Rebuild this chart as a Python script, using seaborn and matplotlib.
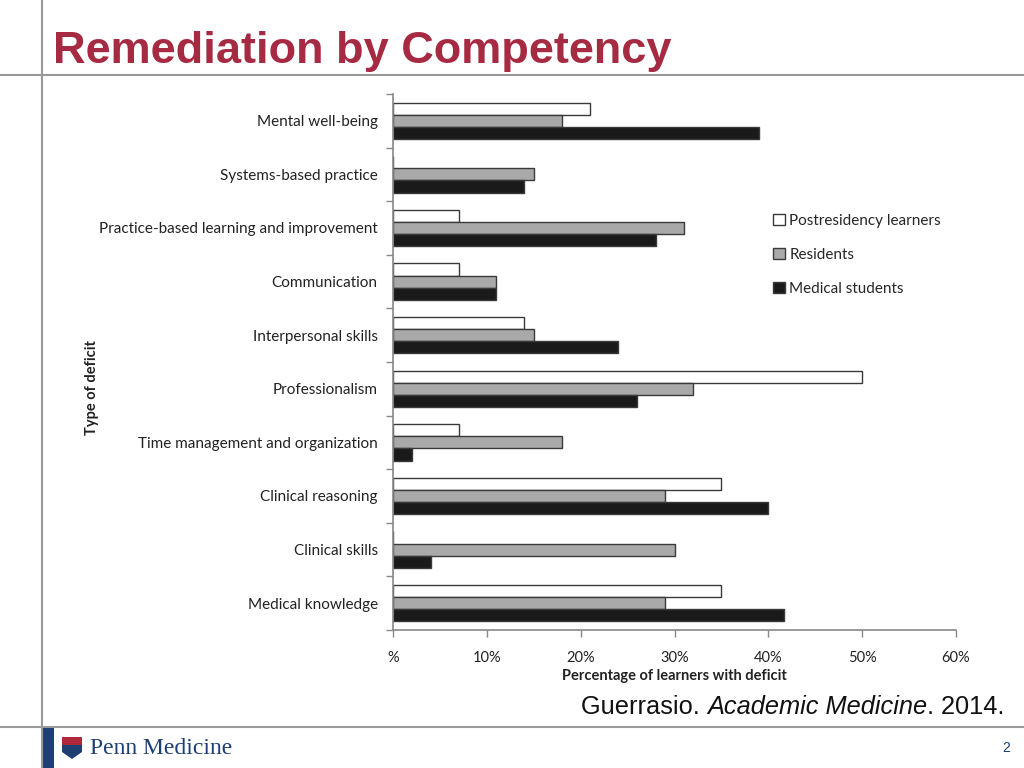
import numpy as np
import pandas as pd
import matplotlib
matplotlib.use("Agg")
import matplotlib.pyplot as plt
import seaborn as sns
from matplotlib.patches import Patch, Rectangle, Polygon
from matplotlib.lines import Line2D

categories = ["Mental well-being", "Systems-based practice",
              "Practice-based learning and improvement", "Communication",
              "Interpersonal skills", "Professionalism",
              "Time management and organization", "Clinical reasoning",
              "Clinical skills", "Medical knowledge"]
postresidency = [21, 0, 7, 7, 14, 50, 7, 35, 0, 35]
residents = [18, 15, 31, 11, 15, 32, 18, 29, 30, 29]
medical_students = [39, 14, 28, 11, 24, 26, 2, 40, 4, 41.7]
series_names = ["Postresidency learners", "Residents", "Medical students"]
x_ticks = [0, 10, 20, 30, 40, 50, 60]
x_tick_labels = ["%", "10%", "20%", "30%", "40%", "50%", "60%"]

df = pd.DataFrame({
    "category": categories * 3,
    "value": postresidency + residents + medical_students,
    "series": [series_names[0]] * 10 + [series_names[1]] * 10 + [series_names[2]] * 10,
})

sns.set_style("white")
plt.rcParams['font.family'] = ['Lato', 'DejaVu Sans']

colors = {"Postresidency learners": "#ffffff", "Residents": "#a9a9a9",
          "Medical students": "#1a1a1a"}

fig = plt.figure(figsize=(10.24, 7.68), dpi=100)
ax = fig.add_axes([393/1024, 1-630/768, (956-393)/1024, (630-94)/768])

sns.barplot(data=df, y="category", x="value", hue="series", order=categories,
            hue_order=series_names, palette=colors, orient="h", width=0.68,
            edgecolor="#3a3a3a", linewidth=1.0, ax=ax, legend=False, saturation=1)

ax.set_xlim(0, 60)
ax.set_ylim(9.5, -0.5)
ax.set_xticks(x_ticks)
ax.set_xticklabels(x_tick_labels, fontsize=10.5, color="#222222")
ax.set_yticks(np.arange(-0.5, 10, 1))
ax.set_yticklabels([])
ax.set_yticks(np.arange(10), minor=True)
ax.set_yticklabels(categories, minor=True, fontsize=11, color="#222222")
ax.tick_params(axis="y", which="minor", length=0, pad=11)
ax.tick_params(axis="y", which="major", length=5, width=1, color="#888888", direction="out", left=True)
ax.tick_params(axis="x", length=5, width=1, color="#888888", direction="out", bottom=True, pad=10)
for s in ["top", "right"]:
    ax.spines[s].set_visible(False)
for s in ["left", "bottom"]:
    ax.spines[s].set_color("#888888")
    ax.spines[s].set_linewidth(1.2)
ax.set_xlabel("Percentage of learners with deficit", fontsize=10.5, fontweight="bold",
              color="#222222", labelpad=3)
ax.set_ylabel("")
fig.text(92/1024, 1-388/768, "Type of deficit", rotation=90, fontsize=10.5,
         fontweight="bold", color="#222222", ha="center", va="center")

handles = [Patch(facecolor=colors[n], edgecolor="#3a3a3a", linewidth=1.0) for n in series_names]
fig.legend(handles, series_names, loc="upper left", bbox_to_anchor=(767/1024, 1-208/768),
           frameon=False, fontsize=11, handlelength=0.75, handleheight=0.75,
           handletextpad=0.3, labelspacing=1.3, borderaxespad=0)

# slide decoration
fig.add_artist(Line2D([42/1024, 42/1024], [0, 1], color="#999999", lw=1.5))
fig.add_artist(Line2D([0, 1], [1-75/768, 1-75/768], color="#999999", lw=1.5))
fig.add_artist(Line2D([0, 1], [1-727/768, 1-727/768], color="#999999", lw=1.5))
fig.add_artist(Rectangle((42/1024, 0), 12/1024, 1-728/768, transform=fig.transFigure,
                         color="#1f3f73", lw=0))
# small shield emblem
fig.add_artist(Rectangle((62/1024, 1-745/768), 20/1024, 8/768, transform=fig.transFigure,
                         facecolor="#b0283c", edgecolor="none"))
fig.add_artist(Polygon([(62/1024, 1-745/768), (82/1024, 1-745/768), (82/1024, 1-752/768),
                        (72/1024, 1-759/768), (62/1024, 1-752/768)], closed=True,
                       transform=fig.transFigure, facecolor="#1f3f73", edgecolor="none"))

fig.text(53/1024, 1-63/768, "Remediation by Competency", fontsize=32.5, fontweight="bold",
         color="#a52a42", family=["Liberation Sans", "DejaVu Sans"], va="baseline", ha="left")
fig.text(90/1024, 1-748/768, "Penn Medicine", fontsize=17,
         color="#1f3f73", family=["Liberation Serif", "DejaVu Serif"], va="center", ha="left")
fig.text(1006/1024, 1-748/768, "2", fontsize=10, color="#1f3f73",
         family=["Liberation Sans"], va="center", ha="center")

# citation with mixed italic
fig.canvas.draw()
r = fig.canvas.get_renderer()
parts = [("Guerrasio. ", "normal"), ("Academic Medicine", "italic"), (". 2014.", "normal")]
x = 581/1024
for txt, st in parts:
    t = fig.text(x, 1-714/768, txt, fontsize=18.3, style=st, color="#111111",
                 family=["Liberation Sans", "DejaVu Sans"], va="baseline", ha="left")
    bb = t.get_window_extent(renderer=r)
    x += bb.width / 1024

fig.savefig("out.png", dpi=100)
